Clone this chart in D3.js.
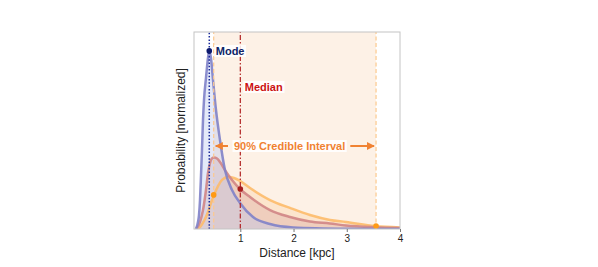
<!DOCTYPE html>
<html lang="en">
<head>
<meta charset="UTF-8">
<title>Distance posterior</title>
<style>
  body { margin: 0; background: #fff; }
  text { font-family: "Liberation Sans", Arial, sans-serif; }
</style>
</head>
<body>
<script src="https://d3js.org/d3.v7.min.js"></script>
<script>
// distance grid (kpc) and normalized probability for each curve
const blueX = [0.168, 0.205, 0.224, 0.243, 0.262, 0.280, 0.299, 0.318, 0.355, 0.393, 0.417, 0.449, 0.487, 0.543, 0.618, 0.712, 0.844, 0.994, 1.238, 1.558, 1.990, 2.985, 4.0];
const blueY = [0, 0.036, 0.071, 0.147, 0.274, 0.401, 0.553, 0.655, 0.766, 0.868, 0.904, 0.868, 0.756, 0.604, 0.452, 0.299, 0.198, 0.132, 0.061, 0.025, 0.008, 0.0015, 0];

const redX = [0.168, 0.243, 0.299, 0.355, 0.393, 0.431, 0.468, 0.506, 0.562, 0.618, 0.712, 0.844, 0.994, 1.182, 1.558, 1.933, 2.309, 2.685, 2.985, 3.530, 4.0];
const redY = [0, 0.036, 0.096, 0.198, 0.284, 0.335, 0.358, 0.363, 0.358, 0.340, 0.299, 0.249, 0.203, 0.162, 0.096, 0.061, 0.038, 0.028, 0.018, 0.009, 0.005];

const orangeX = [0.168, 0.243, 0.318, 0.393, 0.449, 0.506, 0.581, 0.656, 0.769, 0.881, 0.994, 1.182, 1.558, 1.933, 2.309, 2.685, 2.985, 3.530, 4.0];
const orangeY = [0, 0.010, 0.041, 0.086, 0.132, 0.173, 0.218, 0.249, 0.264, 0.259, 0.244, 0.208, 0.147, 0.107, 0.071, 0.046, 0.036, 0.015, 0.008];

// summary statistics
const modeX = 0.417, modeY = 0.904;
const medianX = 1.0, medianY = 0.203;
const ciLow = 0.5, ciLowY = 0.173;
const ciHigh = 3.55, ciHighY = 0.015;

const xTicks = [1, 2, 3, 4];

const W = 598, H = 267;
const margin = { left: 194, right: 198, top: 32, bottom: 38 };

const svg = d3.select('body').append('svg')
    .attr('width', W)
    .attr('height', H);

const x = d3.scaleLinear().domain([0.13, 4]).range([margin.left, W - margin.right]);
const y = d3.scaleLinear().domain([0, 1]).range([H - margin.bottom, margin.top]);

const zip = (xs, ys) => xs.map((d, i) => [d, ys[i]]);

const line = d3.line().x(d => x(d[0])).y(d => y(d[1])).curve(d3.curveMonotoneX);
const area = d3.area().x(d => x(d[0])).y0(y(0)).y1(d => y(d[1])).curve(d3.curveMonotoneX);

svg.append('clipPath').attr('id', 'clip')
  .append('rect')
    .attr('x', x(0.13)).attr('y', y(1))
    .attr('width', x(4) - x(0.13)).attr('height', y(0) - y(1));

const plot = svg.append('g').attr('clip-path', 'url(#clip)');

// credible interval band
plot.append('rect')
    .attr('x', x(ciLow)).attr('y', y(1))
    .attr('width', x(ciHigh) - x(ciLow)).attr('height', y(0) - y(1))
    .attr('fill', '#fdf1e6');

const curves = [
  { d: zip(orangeX, orangeY), line: '#fdbb6a', fill: '#fbd3a6' },
  { d: zip(redX, redY), line: '#d08585', fill: '#d9a7a3' },
  { d: zip(blueX, blueY), line: '#7f82c8', fill: '#b7c6ef' }
];

curves.forEach(c => {
  plot.append('path').datum(c.d).attr('d', area)
      .attr('fill', c.fill).attr('fill-opacity', 0.38);
});
curves.forEach(c => {
  plot.append('path').datum(c.d).attr('d', line)
      .attr('fill', 'none').attr('stroke', c.line)
      .attr('stroke-width', 2.5).attr('stroke-opacity', 0.9);
});

// vertical markers
plot.append('line')
    .attr('x1', x(modeX)).attr('x2', x(modeX)).attr('y1', y(0)).attr('y2', y(1))
    .attr('stroke', '#1a2a9a').attr('stroke-width', 1.5).attr('stroke-dasharray', '1.5,1.8');
plot.append('line')
    .attr('x1', x(medianX)).attr('x2', x(medianX)).attr('y1', y(0)).attr('y2', y(1))
    .attr('stroke', '#b02222').attr('stroke-width', 1.2).attr('stroke-dasharray', '5,2,1.5,2');
[ciLow, ciHigh].forEach(v => {
  plot.append('line')
      .attr('x1', x(v)).attr('x2', x(v)).attr('y1', y(0)).attr('y2', y(1))
      .attr('stroke', '#fcc98f').attr('stroke-width', 1.2).attr('stroke-dasharray', '4,2.5');
});

// points
svg.append('circle').attr('cx', x(modeX)).attr('cy', y(modeY)).attr('r', 2.8).attr('fill', '#0d1a6e');
svg.append('circle').attr('cx', x(medianX)).attr('cy', y(medianY)).attr('r', 2.8).attr('fill', '#a81e1e');
svg.append('circle').attr('cx', x(ciLow)).attr('cy', y(ciLowY)).attr('r', 2.8).attr('fill', '#ff9a14');
svg.append('circle').attr('cx', x(ciHigh)).attr('cy', y(ciHighY)).attr('r', 2.8).attr('fill', '#ff9a14');

// labels with white boxes
function label(txt, px, py, color) {
  const t = svg.append('text')
      .attr('x', px).attr('y', py)
      .attr('dominant-baseline', 'central')
      .attr('font-size', 11).attr('font-weight', 'bold')
      .attr('fill', color).text(txt);
  const b = t.node().getBBox();
  svg.insert('rect', () => t.node())
      .attr('x', b.x - 1.5).attr('y', b.y).attr('width', b.width + 3).attr('height', b.height)
      .attr('fill', '#fff').attr('opacity', 0.85);
  return b;
}
label('Mode', x(modeX) + 6.5, 51, '#0d2466');
label('Median', x(medianX) + 4.5, 87, '#cc1111');
const ciText = label('90% Credible Interval', 234, 146, '#f08232');

// arrows
svg.append('defs').append('marker')
    .attr('id', 'arrow').attr('viewBox', '0 0 10 10')
    .attr('refX', 9).attr('refY', 5)
    .attr('markerWidth', 4).attr('markerHeight', 4)
    .attr('orient', 'auto-start-reverse')
  .append('path').attr('d', 'M0,0L10,5L0,10z').attr('fill', '#f08232');

svg.append('line')
    .attr('x1', ciText.x - 6).attr('x2', x(ciLow) + 2)
    .attr('y1', 146).attr('y2', 146)
    .attr('stroke', '#f08232').attr('stroke-width', 2)
    .attr('marker-end', 'url(#arrow)');
svg.append('line')
    .attr('x1', ciText.x + ciText.width + 5).attr('x2', x(ciHigh) - 2)
    .attr('y1', 146).attr('y2', 146)
    .attr('stroke', '#f08232').attr('stroke-width', 2)
    .attr('marker-end', 'url(#arrow)');

// frame
svg.append('rect')
    .attr('x', x(0.13)).attr('y', y(1))
    .attr('width', x(4) - x(0.13)).attr('height', y(0) - y(1))
    .attr('fill', 'none').attr('stroke', '#c4c4c4').attr('stroke-width', 1);

// x axis
const xAxis = svg.append('g')
    .attr('transform', `translate(0,${y(0)})`)
    .call(d3.axisBottom(x).tickValues(xTicks).tickFormat(d3.format('d')).tickSize(3).tickPadding(3));
xAxis.select('.domain').remove();
xAxis.selectAll('line').attr('stroke', '#777');
xAxis.selectAll('text').attr('font-size', 10).attr('fill', '#222')
    .attr('font-family', '"Liberation Sans", Arial, sans-serif');

svg.append('text')
    .attr('x', (x(0.13) + x(4)) / 2).attr('y', 257)
    .attr('text-anchor', 'middle').attr('font-size', 12).attr('fill', '#222')
    .text('Distance [kpc]');

svg.append('text')
    .attr('transform', `translate(185,${(y(0) + y(1)) / 2}) rotate(-90)`)
    .attr('text-anchor', 'middle').attr('font-size', 12).attr('fill', '#222')
    .text('Probability [normalized]');
</script>
</body>
</html>
